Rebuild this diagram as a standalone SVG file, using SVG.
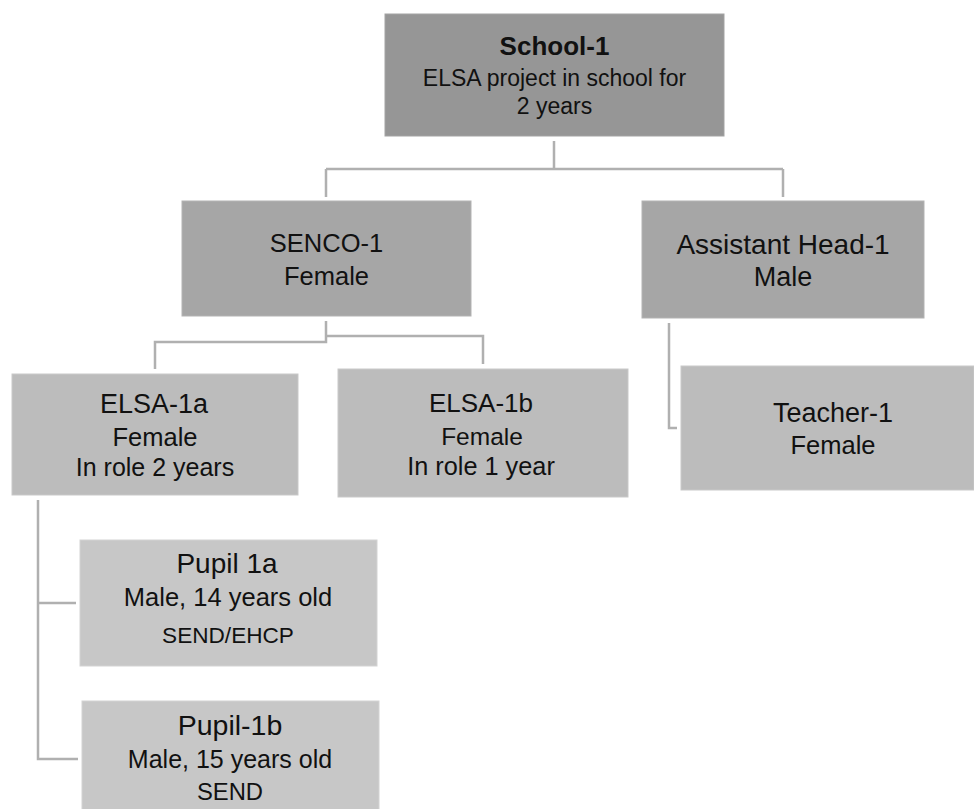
<svg xmlns="http://www.w3.org/2000/svg" width="974" height="809" viewBox="0 0 974 809">
<style>
  .box1 { fill: #969696; stroke: #a3a3a3; stroke-width: 1; }
  .box2 { fill: #a6a6a6; stroke: #b3b3b3; stroke-width: 1; }
  .box3 { fill: #bcbcbc; stroke: #c9c9c9; stroke-width: 1; }
  .box4 { fill: #c7c7c7; stroke: #d3d3d3; stroke-width: 1; }
  text { font-family: "Liberation Sans", Arial, sans-serif; fill: #111111; text-anchor: middle; }
  .conn { fill: none; stroke: #b0b0b0; stroke-width: 2.5; }
</style>
<rect width="974" height="809" fill="#ffffff"/>
<g id="connectors">
  <path class="conn" d="M554,141 V169 M326,169 H783 M326,169 V197 M783,169 V197"/>
  <path class="conn" d="M326,321 V342 H155 V369 M326,336 H483 V364"/>
  <path class="conn" d="M669,323 V428 H677"/>
  <path class="conn" d="M38,500 V759 H78 M38,603 H76"/>
</g>
<g id="school-1">
  <rect class="box1" x="385" y="14" width="339" height="122"/>
  <text x="554.5" y="55" font-size="26" font-weight="bold">School-1</text>
  <text x="554.5" y="86" font-size="23">ELSA project in school for</text>
  <text x="554.5" y="114" font-size="23">2 years</text>
</g>
<g id="senco-1">
  <rect class="box2" x="182" y="201" width="289" height="115"/>
  <text x="326.5" y="252" font-size="25.5">SENCO-1</text>
  <text x="326.5" y="285" font-size="25.5">Female</text>
</g>
<g id="assistant-head-1">
  <rect class="box2" x="642" y="201" width="282" height="117"/>
  <text x="783" y="254" font-size="28">Assistant Head-1</text>
  <text x="783" y="286" font-size="27">Male</text>
</g>
<g id="elsa-1a">
  <rect class="box3" x="12" y="374" width="286" height="121"/>
  <text x="154" y="413" font-size="27">ELSA-1a</text>
  <text x="155" y="446" font-size="25.5">Female</text>
  <text x="155" y="476" font-size="25">In role 2 years</text>
</g>
<g id="elsa-1b">
  <rect class="box3" x="338" y="369" width="290" height="128"/>
  <text x="481" y="412" font-size="26">ELSA-1b</text>
  <text x="482" y="445" font-size="24.5">Female</text>
  <text x="481" y="475" font-size="25.3">In role 1 year</text>
</g>
<g id="teacher-1">
  <rect class="box3" x="681" y="366" width="293" height="124"/>
  <text x="833" y="422" font-size="27">Teacher-1</text>
  <text x="833" y="454" font-size="25.5">Female</text>
</g>
<g id="pupil-1a">
  <rect class="box4" x="80" y="540" width="297" height="126"/>
  <text x="227" y="573" font-size="28">Pupil 1a</text>
  <text x="228" y="606" font-size="25.5">Male, 14 years old</text>
  <text x="228" y="643" font-size="22.6">SEND/EHCP</text>
</g>
<g id="pupil-1b">
  <rect class="box4" x="82" y="701" width="297" height="110"/>
  <text x="230" y="735" font-size="28.5">Pupil-1b</text>
  <text x="230" y="768" font-size="25">Male, 15 years old</text>
  <text x="230" y="800" font-size="23.8">SEND</text>
</g>
</svg>
